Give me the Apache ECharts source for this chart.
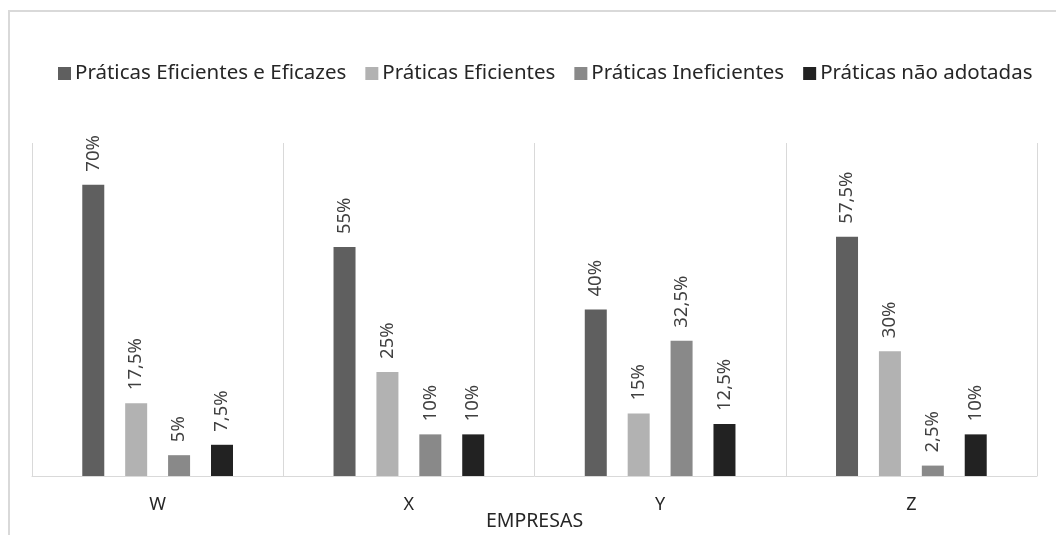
<!DOCTYPE html>
<html>
<head>
<meta charset="utf-8">
<script src="https://cdn.jsdelivr.net/npm/echarts@6/dist/echarts.min.js"></script>
<style>html,body{margin:0;padding:0;background:#fff;}#c{width:1056px;height:535px;}</style>
</head>
<body>
<div id="c"></div>
<script>
const categories = ['W', 'X', 'Y', 'Z'];
const seriesNames = ['Práticas Eficientes e Eficazes', 'Práticas Eficientes', 'Práticas Ineficientes', 'Práticas não adotadas'];
const eficientesEficazes = [70, 55, 40, 57.5];
const eficientes = [17.5, 25, 15, 30];
const ineficientes = [5, 10, 32.5, 2.5];
const naoAdotadas = [7.5, 10, 12.5, 10];
const colors = ['#5f5f5f', '#b2b2b2', '#898989', '#222222'];
const FONT = 'Noto Sans';

const allData = [eficientesEficazes, eficientes, ineficientes, naoAdotadas];
const chart = echarts.init(document.getElementById('c'));
chart.setOption({
  animation: false,
  textStyle: { fontFamily: FONT },
  graphic: [{
    type: 'rect', shape: { x: 9, y: 11, width: 1100, height: 600 },
    style: { fill: 'none', stroke: '#d9d9d9', lineWidth: 2 }, silent: true
  }],
  legend: {
    top: 58, left: 53,
    icon: 'rect', itemWidth: 13, itemHeight: 13, itemGap: 19, itemStyle: { borderWidth: 0 },
    textStyle: { fontFamily: FONT, fontSize: 20.5, color: '#262626', padding: [0, 0, 0, -1] },
    data: seriesNames
  },
  grid: { left: 32, right: 19, top: 143, bottom: 59, outerBoundsMode: 'none', containLabel: false },
  xAxis: {
    type: 'category', data: categories,
    axisLine: { lineStyle: { color: '#d9d9d9', width: 1 } },
    axisTick: { show: false },
    splitLine: { show: true, lineStyle: { color: '#d9d9d9', width: 1 } },
    axisLabel: { fontFamily: FONT, fontSize: 18, color: '#262626', margin: 20 },
    name: 'EMPRESAS', nameLocation: 'middle', nameGap: 35, nameMoveOverlap: false,
    nameTextStyle: { fontFamily: FONT, fontSize: 19.5, color: '#262626' }
  },
  yAxis: {
    type: 'value', min: 0, max: 80, show: false,
    splitLine: { show: false }
  },
  series: seriesNames.map((n, i) => ({
    name: n, type: 'bar', data: allData[i],
    barWidth: 22, barGap: '95%',
    itemStyle: { color: colors[i] },
    label: {
      show: true, position: 'top', rotate: 90, align: 'left', verticalAlign: 'middle',
      distance: 13, fontFamily: FONT, fontSize: 18.5, color: '#404040',
      formatter: p => String(p.value).replace('.', ',') + '%'
    }
  }))
});
</script>
</body>
</html>
